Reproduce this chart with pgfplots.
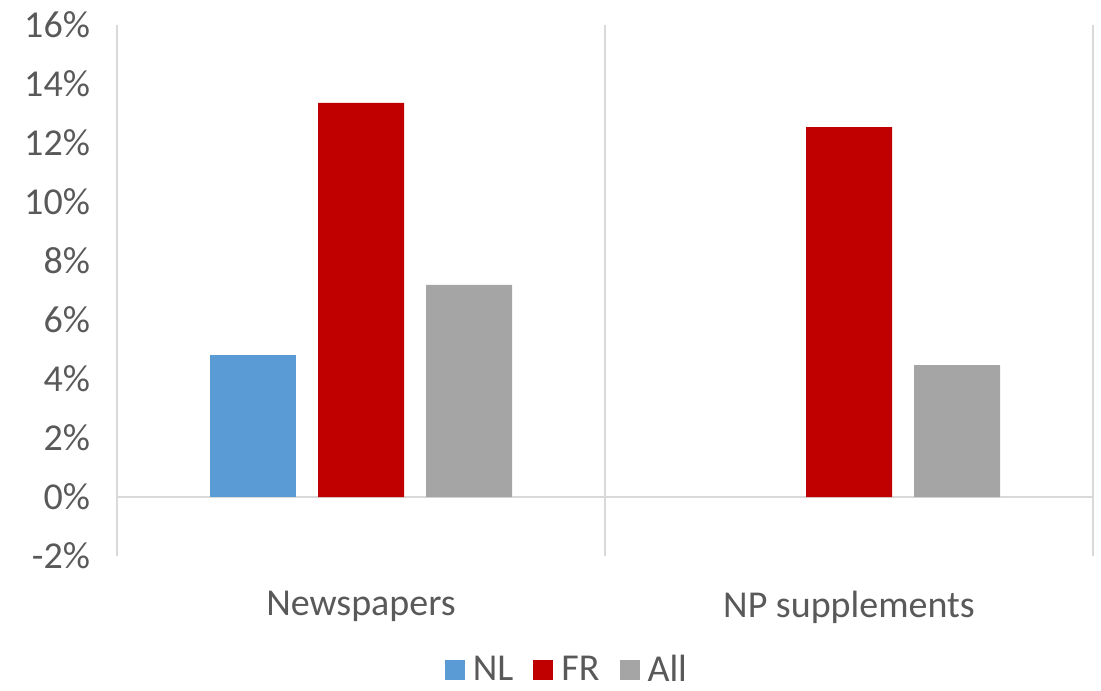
\documentclass[border=0pt]{standalone}
\usepackage{pgfplots}
\pgfplotsset{compat=1.18}
\usepackage{fontspec}
\setmainfont{Carlito}
\definecolor{cNL}{HTML}{5B9BD5}
\definecolor{cFR}{HTML}{C00000}
\definecolor{cAll}{HTML}{A5A5A5}
\definecolor{txt}{HTML}{595959}
\definecolor{grd}{HTML}{D9D9D9}
\begin{document}
\begin{tikzpicture}
\begin{axis}[
  scale only axis,
  width=488pt, height=265.5pt,
  ybar=11pt, bar width=43pt,
  xmin=-0.5, xmax=1.5,
  ymin=-2, ymax=16,
  xtick={0,1},
  xticklabels={Newspapers, NP supplements},
  ytick={-2,0,2,4,6,8,10,12,14,16},
  yticklabels={-2\%,0\%,2\%,4\%,6\%,8\%,10\%,12\%,14\%,16\%},
  axis line style={draw=none},
  tick style={draw=none},
  major tick length=0pt,
  font=\fontsize{19pt}{22pt}\selectfont,
  tick label style={text=txt, font=\fontsize{19pt}{22pt}\selectfont},
  yticklabel style={xshift=-10pt},
  xticklabel style={yshift=-14pt},
  extra x ticks={-0.5,0.5,1.5},
  extra x tick labels={},
  extra x tick style={grid=major, major grid style={grd, line width=1pt}},
  extra y ticks={0},
  extra y tick labels={},
  extra y tick style={grid=major, major grid style={grd, line width=1pt}},
  legend style={at={(0.462,-0.215)}, anchor=center, draw=none, legend columns=3,
    font=\fontsize{19pt}{22pt}\selectfont, text=txt, fill=none,
    /tikz/every odd column/.append style={column sep=2pt},
    /tikz/every even column/.append style={column sep=8pt}},
  legend image code/.code={\fill[#1] (0pt,-5pt) rectangle (10pt,5pt);},
]
\addplot[draw=none, fill=cNL] coordinates {(0,4.81)};
\addplot[draw=none, fill=cFR] coordinates {(0,13.36) (1,12.54)};
\addplot[draw=none, fill=cAll] coordinates {(0,7.19) (1,4.47)};
\legend{NL, FR, All}
\end{axis}
\pgfresetboundingbox
\useasboundingbox (-58.5pt,-67pt) rectangle (492pt,278pt);
\end{tikzpicture}
\end{document}
